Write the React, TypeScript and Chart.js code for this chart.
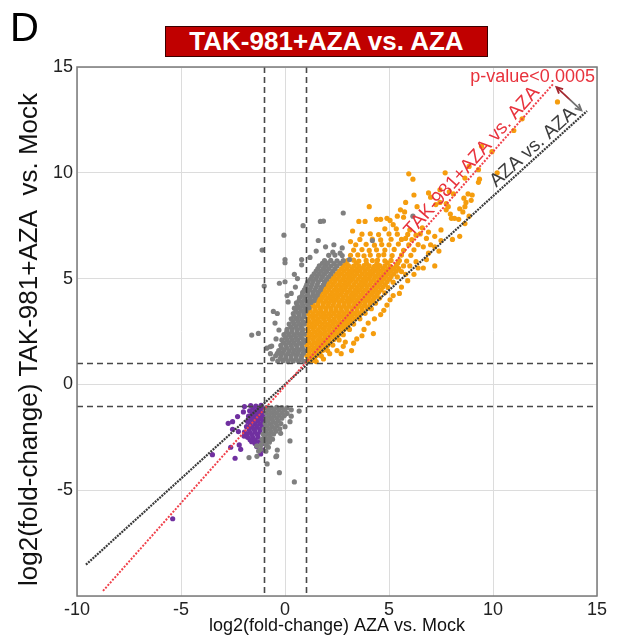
import React, { useEffect, useRef } from "react";
import { Chart, registerables } from "chart.js";

Chart.register(...registerables);

const FONT = '"Liberation Sans", Arial, Helvetica, sans-serif';

// axis ticks / ranges
const xRange = [-10, 15];
const yRange = [-10, 15];
const tickStep = 5;

// significance thresholds (dashed guides)
const thresholdsX = [-1, 1];
const thresholdsY = [-1, 1];

// fitted lines [x, y] end points
const lineAZA = [[-9.57, -8.52], [14.52, 12.92]];
const lineTAK = [[-8.75, -9.76], [12.93, 14.24]];

// labels
const titleText = "TAK-981+AZA vs. AZA";
const panelLetter = "D";
const xTitle = "log2(fold-change) AZA vs. Mock";
const yTitle = "log2(fold-change) TAK-981+AZA  vs. Mock";
const pLabel = "p-value<0.0005";
const takLabel = "TAK-981+AZA vs. AZA";
const azaLabel = "AZA vs. AZA";
const pLabelAt = [14.9, 14.27];
const arrowEnds = [[13.05, 14.05], [14.25, 12.95]];

// orange: up in TAK-981+AZA relative to AZA
const orangePoints = [
  [1.05,1.1],[1.3,1.12],[1.5,1.08],
  [1.17,1.22],[1.42,1.23],
  [1.05,1.35],[1.28,1.33],[1.52,1.37],[1.75,1.34],
  [1.17,1.47],[1.42,1.48],[1.67,1.46],
  [1.1,1.6],[1.33,1.62],[1.58,1.58],[1.82,1.61],[2.05,1.6],
  [1.17,1.72],[1.42,1.73],[1.67,1.71],[1.92,1.72],
  [1.05,1.85],[1.3,1.86],[1.55,1.83],[1.8,1.87],[2.05,1.84],[2.3,1.86],
  [1.17,1.97],[1.42,1.98],[1.67,1.96],[1.92,1.97],[2.17,1.98],
  [1.1,2.1],[1.35,2.12],[1.6,2.08],[1.85,2.11],[2.1,2.09],[2.35,2.12],[2.6,2.1],
  [1.17,2.22],[1.42,2.23],[1.67,2.21],[1.92,2.22],[2.17,2.24],[2.42,2.22],
  [1.05,2.35],[1.3,2.36],[1.55,2.33],[1.8,2.37],[2.05,2.34],[2.3,2.36],[2.55,2.34],[2.8,2.35],
  [1.17,2.47],[1.42,2.48],[1.67,2.46],[1.92,2.47],[2.17,2.49],[2.42,2.47],[2.67,2.46],
  [1.1,2.6],[1.35,2.62],[1.6,2.58],[1.85,2.61],[2.1,2.6],[2.35,2.63],[2.6,2.59],[2.85,2.61],[3.1,2.6],
  [1.17,2.72],[1.42,2.73],[1.67,2.71],[1.92,2.72],[2.17,2.74],[2.42,2.72],[2.67,2.71],[2.92,2.73],
  [1.05,2.85],[1.3,2.84],[1.55,2.87],[1.8,2.85],[2.05,2.83],[2.3,2.86],[2.55,2.85],[2.8,2.84],[3.05,2.87],[3.3,2.85],
  [1.17,2.97],[1.42,2.98],[1.67,2.96],[1.92,2.97],[2.17,2.99],[2.42,2.97],[2.67,2.96],[2.92,2.98],[3.17,2.97],
  [1.1,3.1],[1.35,3.12],[1.6,3.09],[1.85,3.11],[2.1,3.1],[2.35,3.08],[2.6,3.11],[2.85,3.1],[3.1,3.12],[3.35,3.09],[3.6,3.1],
  [1.22,3.22],[1.47,3.23],[1.72,3.21],[1.97,3.22],[2.22,3.24],[2.47,3.22],[2.72,3.21],[2.97,3.23],[3.22,3.22],[3.47,3.21],
  [1.1,3.35],[1.35,3.34],[1.6,3.36],[1.85,3.35],[2.1,3.33],[2.35,3.36],[2.6,3.35],[2.85,3.34],[3.1,3.36],[3.35,3.35],[3.6,3.33],[3.85,3.36],
  [1.22,3.47],[1.47,3.48],[1.72,3.46],[1.97,3.47],[2.22,3.49],[2.47,3.47],[2.72,3.46],[2.97,3.48],[3.22,3.47],[3.47,3.46],[3.72,3.48],
  [1.2,3.6],[1.45,3.62],[1.7,3.59],[1.95,3.61],[2.2,3.6],[2.45,3.58],[2.7,3.61],[2.95,3.6],[3.2,3.62],[3.45,3.59],[3.7,3.61],[3.95,3.6],[4.15,3.58],
  [1.32,3.72],[1.57,3.73],[1.82,3.71],[2.07,3.72],[2.32,3.74],[2.57,3.72],[2.82,3.71],[3.07,3.73],[3.32,3.72],[3.57,3.71],[3.82,3.73],[4.07,3.72],
  [1.35,3.85],[1.6,3.86],[1.85,3.84],[2.1,3.85],[2.35,3.87],[2.6,3.85],[2.85,3.83],[3.1,3.86],[3.35,3.85],[3.6,3.84],[3.85,3.86],[4.1,3.85],[4.35,3.84],
  [1.47,3.97],[1.72,3.98],[1.97,3.96],[2.22,3.97],[2.47,3.99],[2.72,3.97],[2.97,3.96],[3.22,3.98],[3.47,3.97],[3.72,3.96],[3.97,3.98],[4.22,3.97],
  [1.55,4.1],[1.8,4.11],[2.05,4.09],[2.3,4.1],[2.55,4.12],[2.8,4.1],[3.05,4.08],[3.3,4.11],[3.55,4.1],[3.8,4.09],[4.05,4.11],[4.3,4.1],[4.55,4.08],
  [1.67,4.22],[1.92,4.23],[2.17,4.21],[2.42,4.22],[2.67,4.24],[2.92,4.22],[3.17,4.21],[3.42,4.23],[3.67,4.22],[3.92,4.21],[4.17,4.23],[4.42,4.22],
  [1.75,4.35],[2.0,4.36],[2.25,4.34],[2.5,4.35],[2.75,4.37],[3.0,4.35],[3.25,4.33],[3.5,4.36],[3.75,4.35],[4.0,4.34],[4.25,4.36],[4.5,4.35],[4.8,4.33],
  [1.87,4.47],[2.12,4.48],[2.37,4.46],[2.62,4.47],[2.87,4.49],[3.12,4.47],[3.37,4.46],[3.62,4.48],[3.87,4.47],[4.12,4.46],[4.37,4.48],[4.62,4.47],
  [1.95,4.6],[2.2,4.61],[2.45,4.59],[2.7,4.6],[2.95,4.62],[3.2,4.6],[3.45,4.58],[3.7,4.61],[3.95,4.6],[4.2,4.59],[4.45,4.61],[4.7,4.6],[4.95,4.58],
  [2.07,4.72],[2.32,4.73],[2.57,4.71],[2.82,4.72],[3.07,4.74],[3.32,4.72],[3.57,4.71],[3.82,4.73],[4.07,4.72],[4.32,4.71],[4.57,4.73],[4.82,4.72],
  [2.15,4.85],[2.4,4.86],[2.65,4.84],[2.9,4.85],[3.15,4.87],[3.4,4.85],[3.65,4.83],[3.9,4.86],[4.15,4.85],[4.4,4.84],[4.65,4.86],[4.9,4.85],[5.2,4.83],
  [2.27,4.97],[2.52,4.98],[2.77,4.96],[3.02,4.97],[3.27,4.99],[3.52,4.97],[3.77,4.96],[4.02,4.98],[4.27,4.97],[4.52,4.96],[4.77,4.98],[5.02,4.97],
  [2.35,5.1],[2.6,5.11],[2.85,5.09],[3.1,5.1],[3.35,5.12],[3.6,5.1],[3.85,5.08],[4.1,5.11],[4.35,5.1],[4.6,5.09],[4.85,5.11],[5.1,5.1],[5.4,5.08],
  [2.47,5.22],[2.72,5.23],[2.97,5.21],[3.22,5.22],[3.47,5.24],[3.72,5.22],[3.97,5.21],[4.22,5.23],[4.47,5.22],[4.72,5.21],[4.97,5.23],[5.22,5.22],
  [2.6,5.35],[2.85,5.36],[3.1,5.34],[3.35,5.35],[3.6,5.37],[3.85,5.35],[4.1,5.33],[4.35,5.36],[4.6,5.35],[4.85,5.34],[5.1,5.36],[5.35,5.35],[5.6,5.33],
  [2.72,5.47],[2.97,5.48],[3.22,5.46],[3.47,5.47],[3.72,5.49],[3.97,5.47],[4.22,5.46],[4.47,5.48],[4.72,5.47],[4.97,5.46],[5.22,5.48],[5.47,5.47],
  [2.8,5.6],[3.05,5.61],[3.3,5.59],[3.55,5.6],[3.8,5.62],[4.05,5.6],[4.3,5.58],[4.55,5.61],[4.8,5.6],[5.05,5.59],[5.35,5.61],[5.7,5.6],
  [2.92,5.72],[3.42,5.73],[3.92,5.71],[4.42,5.72],[4.92,5.74],[5.42,5.72],
  [3.0,5.85],[3.3,5.87],[3.55,5.83],[3.9,5.86],[4.2,5.85],[4.45,5.88],[4.8,5.84],[5.1,5.86],[5.5,5.85],[5.85,5.83],
  [3.15,6.1],[3.5,6.12],[3.8,6.08],[4.1,6.11],[4.5,6.1],[4.75,6.13],[5.15,6.09],[5.6,6.11],[6.05,6.1],
  [3.3,6.35],[3.7,6.37],[4.05,6.33],[4.4,6.36],[4.8,6.35],[5.25,6.38],[5.7,6.34],[6.2,6.36],
  [3.4,6.6],[3.9,6.62],[4.3,6.58],[4.65,6.61],[5.0,6.6],[5.45,6.63],[5.95,6.59],[6.4,6.61],
  [3.6,6.85],[4.2,6.87],[4.6,6.83],[5.1,6.86],[5.6,6.85],[6.1,6.84],
  [3.7,7.1],[4.1,7.12],[4.5,7.08],[5.0,7.11],[5.4,7.1],[5.9,7.09],[6.5,7.11],
  [13.1,13.35],[11.4,12.55],[11.0,12.0],[9.45,11.25],[9.95,11.0],[10.2,10.0],[9.3,10.15],[9.35,9.7],[9.3,9.55],[8.65,9.75],[8.85,10.3],[7.7,10.0],[5.95,9.95],[6.15,9.7],
  [8.8,9.0],[9.0,8.95],[8.6,8.8],[8.7,8.6],[8.95,8.7],[8.65,8.4],[8.4,8.3],[8.55,8.15],[6.2,8.95],[5.8,8.6],[6.9,9.05],[7.0,8.85],[7.45,9.2],[7.25,8.5],[7.45,8.6],[7.75,8.25],[7.95,8.05],[7.9,9.1],[8.1,9.0],[7.75,8.55],[7.85,8.4],
  [4.05,8.4],[6.35,8.4],[5.55,8.25],[5.75,8.15],[3.55,7.7],[3.85,7.7],[4.4,7.8],[4.6,7.8],[4.9,7.85],[5.05,7.75],[5.2,7.55],[5.35,7.35],[8.15,7.85],[8.35,7.8],[8.0,7.85],[8.85,7.95],[8.65,7.6],[5.4,7.95],[5.7,7.9],
  [3.25,7.25],[3.15,6.75],[8.05,6.85],[8.4,7.0],[7.2,6.5],[6.65,6.5],[6.0,7.3],[6.3,7.05],[6.6,7.4],[6.9,7.2],[7.2,7.0],[7.5,7.3],[6.8,6.9],[7.5,6.8],[5.8,6.9],[4.8,7.35],
  [6.65,5.5],[7.2,5.6],[6.8,5.9],[5.05,4.0],[4.9,3.75],[4.75,3.5],[4.25,2.4],[3.45,2.15],[3.3,1.95],[2.8,1.8],[2.5,1.6],[3.2,1.6],[2.7,1.45],[2.15,1.45],[1.85,1.2],
  [5.6,4.6],[5.9,4.9],[6.2,5.2],[5.5,4.3],[6.0,5.6],[6.4,5.5],[5.8,5.2],[4.6,3.3],[4.0,2.9],[3.8,2.6],[5.2,4.2],[6.3,5.8],[4.3,3.1],[3.7,2.3],[2.9,2.0],[6.9,6.2],[7.4,6.3],[7.0,6.6],
];

// gray: not significant
const grayPoints = [
  [-0.35,1.1],[-0.1,1.12],[0.15,1.08],[0.4,1.11],[0.65,1.1],[0.9,1.09],
  [-0.22,1.22],[0.03,1.23],[0.28,1.21],[0.53,1.22],[0.78,1.24],
  [-0.45,1.35],[-0.2,1.36],[0.05,1.34],[0.3,1.35],[0.55,1.37],[0.8,1.35],
  [-0.37,1.47],[-0.12,1.48],[0.13,1.46],[0.38,1.47],[0.63,1.49],[0.88,1.47],
  [-0.3,1.6],[-0.05,1.61],[0.2,1.59],[0.45,1.6],[0.7,1.62],[0.92,1.6],
  [-0.17,1.72],[0.08,1.73],[0.33,1.71],[0.58,1.72],[0.83,1.74],
  [-0.2,1.85],[0.05,1.86],[0.3,1.84],[0.55,1.85],[0.8,1.87],
  [-0.07,1.97],[0.18,1.98],[0.43,1.96],[0.68,1.97],[0.9,1.99],
  [-0.15,2.1],[0.1,2.11],[0.35,2.09],[0.6,2.1],[0.88,2.12],
  [0.03,2.22],[0.28,2.23],[0.53,2.21],[0.78,2.22],
  [-0.05,2.35],[0.2,2.36],[0.45,2.34],[0.7,2.35],[0.92,2.37],
  [0.08,2.47],[0.33,2.48],[0.58,2.46],[0.83,2.47],
  [0.1,2.6],[0.35,2.61],[0.6,2.59],[0.85,2.6],
  [0.28,2.72],[0.53,2.73],[0.78,2.71],
  [0.2,2.85],[0.45,2.86],[0.7,2.84],[0.92,2.85],
  [0.38,2.97],[0.63,2.98],[0.88,2.96],
  [0.3,3.1],[0.55,3.11],[0.8,3.09],
  [0.43,3.22],[0.68,3.23],[0.92,3.21],
  [0.4,3.35],[0.65,3.36],[0.9,3.34],
  [0.53,3.47],[0.78,3.48],[1.0,3.46],
  [0.45,3.6],[0.7,3.61],[0.95,3.59],[1.15,3.62],
  [0.6,3.72],[0.85,3.73],[1.1,3.71],
  [0.55,3.85],[0.8,3.86],[1.05,3.84],[1.25,3.87],
  [0.68,3.97],[0.93,3.98],[1.18,3.96],[1.4,3.97],
  [0.7,4.1],[0.95,4.11],[1.2,4.09],[1.45,4.1],
  [0.83,4.22],[1.08,4.23],[1.33,4.21],[1.55,4.22],
  [0.85,4.35],[1.1,4.36],[1.35,4.34],[1.6,4.35],
  [0.93,4.47],[1.18,4.48],[1.43,4.46],[1.7,4.47],
  [1.0,4.6],[1.25,4.61],[1.5,4.59],[1.75,4.6],
  [1.05,4.72],[1.3,4.73],[1.55,4.71],[1.85,4.72],
  [1.1,4.85],[1.35,4.86],[1.6,4.84],[1.9,4.85],
  [1.23,4.97],[1.48,4.98],[1.73,4.96],[2.0,4.97],
  [1.3,5.1],[1.55,5.11],[1.8,5.09],[2.1,5.1],
  [1.4,5.22],[1.65,5.23],[1.9,5.21],[2.2,5.22],
  [1.5,5.35],[1.75,5.36],[2.0,5.34],[2.3,5.35],
  [1.58,5.47],[1.85,5.48],[2.1,5.46],[2.4,5.47],
  [1.65,5.6],[1.95,5.61],[2.2,5.59],[2.5,5.6],
  [1.8,5.72],[2.05,5.73],[2.35,5.71],[2.65,5.72],
  [1.9,5.85],[2.2,5.86],[2.5,5.84],[2.8,5.85],
  [2.1,6.1],[2.4,6.11],[2.75,6.09],
  [2.8,8.1],[1.7,7.7],[1.85,7.72],[0.87,7.5],[-0.05,7.05],[-1.1,6.35],[0,5.9],[0,5.75],[1.6,6.8],[0.8,5.9],[0.8,5.65],
  [-1.0,4.65],[0,4.85],[-0.27,4.78],[-0.56,3.45],[-0.37,3.35],[-0.48,2.9],[-0.29,2.57],[-0.72,1.78],[-0.43,2.15],
  [6.15,7.95],[4.2,6.8],[2.3,6.25],[2.65,6.2],[3.1,5.9],[1.5,6.3],[1.95,6.5],[2.35,6.6],[2.75,6.45],[1.2,6.0],
  [0.15,3.9],[0.3,4.3],[0.5,4.6],[0.1,4.2],[-1.6,2.33],[-1.28,2.41],[-0.64,1.81],[-0.88,1.71],[-0.6,1.2],[-0.7,1.45],[0.45,5.2],[0.6,5.0],
  [-0.9,-1.1],[-0.65,-1.12],[-0.4,-1.09],[-0.15,-1.1],[0.1,-1.11],
  [-0.78,-1.22],[-0.53,-1.23],[-0.28,-1.21],[-0.03,-1.22],
  [-0.9,-1.35],[-0.65,-1.36],[-0.4,-1.34],[-0.15,-1.35],[0.1,-1.37],
  [-0.78,-1.47],[-0.53,-1.48],[-0.28,-1.46],[-0.03,-1.47],
  [-0.9,-1.6],[-0.65,-1.61],[-0.4,-1.59],[-0.15,-1.6],
  [-0.83,-1.72],[-0.58,-1.73],[-0.33,-1.71],
  [-0.95,-1.85],[-0.7,-1.86],[-0.45,-1.84],[-0.2,-1.85],
  [-0.88,-1.97],[-0.63,-1.98],[-0.38,-1.96],
  [-1.0,-2.1],[-0.75,-2.11],[-0.5,-2.09],[-0.25,-2.1],
  [-0.93,-2.22],[-0.68,-2.23],[-0.43,-2.21],
  [-1.05,-2.35],[-0.8,-2.36],[-0.55,-2.34],
  [-0.98,-2.47],[-0.73,-2.48],
  [-1.1,-2.6],[-0.85,-2.61],[-0.6,-2.59],
  [-1.0,-2.72],[-0.75,-2.73],
  [-1.15,-2.85],[-0.9,-2.86],
  [0.68,-1.26],[0.3,-1.5],[0.24,-1.76],[0.0,-2.0],[-0.21,-2.31],[0.24,-2.67],[-0.72,-2.63],[-0.37,-3.1],[-0.8,-2.97],
  [-0.92,-3.16],[-0.44,-3.42],[-0.86,-3.76],[-1.27,-3.15],[-1.17,-3.07],[-1.36,-2.91],[-1.73,-3.46],[-0.27,-4.17],[0.45,-4.61],
  [-0.4,-3.38],[0.3,-1.2],[-1.35,-3.4],
];

// purple: down in TAK-981+AZA relative to AZA
const purplePoints = [
  [-1.65,-1.0],[-1.4,-1.02],[-1.15,-0.99],
  [-1.55,-1.12],[-1.3,-1.13],[-1.08,-1.11],
  [-1.7,-1.25],[-1.45,-1.26],[-1.2,-1.24],
  [-1.58,-1.37],[-1.33,-1.38],[-1.1,-1.36],
  [-1.75,-1.5],[-1.5,-1.51],[-1.25,-1.49],[-1.05,-1.5],
  [-1.62,-1.62],[-1.38,-1.63],[-1.15,-1.61],
  [-1.8,-1.75],[-1.55,-1.76],[-1.3,-1.74],[-1.05,-1.75],
  [-1.68,-1.87],[-1.43,-1.88],[-1.18,-1.86],
  [-1.85,-2.0],[-1.6,-2.01],[-1.35,-1.99],[-1.1,-2.0],
  [-1.72,-2.12],[-1.47,-2.13],[-1.22,-2.11],
  [-1.95,-2.25],[-1.7,-2.26],[-1.45,-2.24],[-1.2,-2.25],
  [-1.82,-2.37],[-1.58,-2.38],[-1.33,-2.36],
  [-1.8,-2.5],[-1.55,-2.51],[-1.3,-2.49],
  [-1.68,-2.62],[-1.43,-2.63],
  [-3.49,-3.32],[-2.73,-1.84],[-2.52,-1.76],[-2.28,-1.52],[-2.52,-2.12],[-2.24,-2.23],[-1.97,-2.44],[-2.4,-3.49],
  [-2.2,-2.86],[-2.13,-3.07],[-2.61,-2.97],[-1.6,-2.71],[-1.44,-2.79],[-1.23,-2.71],[-1.07,-2.79],[-1.36,-2.94],
  [-1.17,-3.29],[-1.07,-3.1],[-5.4,-6.35],[-2.0,-1.3],[-1.95,-1.05],
];

const toXY = (arr: number[][]) => arr.map(([x, y]) => ({ x, y }));

const overlay = {
  id: "overlay",
  afterDatasetsDraw(chart: any) {
    const { ctx, chartArea: a, scales } = chart;
    const xs = scales.x;
    const ys = scales.y;
    const px = (v: number) => xs.getPixelForValue(v);
    const py = (v: number) => ys.getPixelForValue(v);

    ctx.save();
    ctx.beginPath();
    ctx.rect(a.left, a.top, a.right - a.left, a.bottom - a.top);
    ctx.clip();
    ctx.strokeStyle = "#484848";
    ctx.lineWidth = 1.6;
    ctx.setLineDash([6, 4]);
    thresholdsX.forEach((v) => {
      ctx.beginPath();
      ctx.moveTo(Math.round(px(v)) + 0.5, a.top);
      ctx.lineTo(Math.round(px(v)) + 0.5, a.bottom);
      ctx.stroke();
    });
    thresholdsY.forEach((v) => {
      ctx.beginPath();
      ctx.moveTo(a.left, Math.round(py(v)) + 0.5);
      ctx.lineTo(a.right, Math.round(py(v)) + 0.5);
      ctx.stroke();
    });
    ctx.restore();

    // border
    ctx.save();
    ctx.strokeStyle = "#7a7a7a";
    ctx.lineWidth = 1.5;
    ctx.strokeRect(a.left, a.top, a.right - a.left, a.bottom - a.top);
    ctx.restore();

    // rotated labels along lines
    const drawAlong = (line: number[][], t: number, text: string, color: string) => {
      const x1 = px(line[0][0]), y1 = py(line[0][1]);
      const x2 = px(line[1][0]), y2 = py(line[1][1]);
      const ang = Math.atan2(y2 - y1, x2 - x1);
      const ax = x1 + (x2 - x1) * t;
      const ay = y1 + (y2 - y1) * t;
      ctx.save();
      ctx.translate(ax, ay);
      ctx.rotate(ang);
      ctx.font = `19px ${FONT}`;
      ctx.fillStyle = color;
      ctx.textAlign = "right";
      ctx.textBaseline = "alphabetic";
      ctx.fillText(text, 0, -4);
      ctx.restore();
    };
    drawAlong(lineTAK, 0.976, takLabel, "#e8323c");
    drawAlong(lineAZA, 0.985, azaLabel, "#3c3c3c");

    // p-value label
    ctx.save();
    ctx.font = `18px ${FONT}`;
    ctx.fillStyle = "#e8323c";
    ctx.textAlign = "right";
    ctx.textBaseline = "alphabetic";
    ctx.fillText(pLabel, px(pLabelAt[0]), py(pLabelAt[1]));
    ctx.restore();

    // double-headed arrow
    const sx = px(arrowEnds[0][0]), sy = py(arrowEnds[0][1]);
    const ex = px(arrowEnds[1][0]), ey = py(arrowEnds[1][1]);
    const grad = ctx.createLinearGradient(sx, sy, ex, ey);
    grad.addColorStop(0, "#a3262e");
    grad.addColorStop(0.45, "#a3262e");
    grad.addColorStop(0.6, "#707070");
    grad.addColorStop(1, "#707070");
    ctx.save();
    ctx.strokeStyle = grad;
    ctx.lineWidth = 1.8;
    ctx.beginPath();
    ctx.moveTo(sx, sy);
    ctx.lineTo(ex, ey);
    ctx.stroke();
    const head = (hx: number, hy: number, dir: number, col: string) => {
      ctx.strokeStyle = col;
      ctx.beginPath();
      ctx.moveTo(hx + 7 * Math.cos(dir + 0.45), hy + 7 * Math.sin(dir + 0.45));
      ctx.lineTo(hx, hy);
      ctx.lineTo(hx + 7 * Math.cos(dir - 0.45), hy + 7 * Math.sin(dir - 0.45));
      ctx.stroke();
    };
    const ang = Math.atan2(ey - sy, ex - sx);
    head(sx, sy, ang, "#a3262e");
    head(ex, ey, ang + Math.PI, "#707070");
    ctx.restore();
  },
  afterDraw(chart: any) {
    const { ctx, chartArea: a } = chart;
    // y-axis title
    ctx.save();
    ctx.translate(30, (a.top + a.bottom) / 2 + 8);
    ctx.rotate(-Math.PI / 2);
    ctx.font = `26px ${FONT}`;
    ctx.fillStyle = "#111";
    ctx.textAlign = "center";
    ctx.textBaseline = "middle";
    ctx.fillText(yTitle, 0, 0);
    ctx.restore();
  },
};

export default function App() {
  const ref = useRef<HTMLCanvasElement | null>(null);

  useEffect(() => {
    if (!ref.current) return;
    const chart = new Chart(ref.current, {
      type: "scatter",
      data: {
        datasets: [
          {
            label: "TAK fit",
            data: toXY(lineTAK),
            showLine: true,
            borderColor: "#f0404a",
            borderWidth: 2,
            borderDash: [2, 1.5],
            pointRadius: 0,
            fill: false,
          } as any,
          {
            label: "AZA fit",
            data: toXY(lineAZA),
            showLine: true,
            borderColor: "#3a3a3a",
            borderWidth: 2.2,
            borderDash: [2, 1],
            pointRadius: 0,
            fill: false,
          },
          {
            label: "NS",
            data: toXY(grayPoints),
            backgroundColor: "#7f7f7f",
            borderWidth: 0,
            pointRadius: 2.6,
            pointHoverRadius: 2.6,
          },
          {
            label: "Down",
            data: toXY(purplePoints),
            backgroundColor: "#7030a0",
            borderWidth: 0,
            pointRadius: 2.6,
            pointHoverRadius: 2.6,
          },
          {
            label: "Up",
            data: toXY(orangePoints),
            backgroundColor: "#f59d0e",
            borderWidth: 0,
            pointRadius: 2.6,
            pointHoverRadius: 2.6,
          },
        ],
      },
      options: {
        responsive: false,
        animation: false,
        devicePixelRatio: 1,
        layout: { padding: { top: 67, right: 24, left: 0, bottom: 0 } },
        plugins: { legend: { display: false }, tooltip: { enabled: false } },
        scales: {
          x: {
            type: "linear",
            min: xRange[0],
            max: xRange[1],
            ticks: { stepSize: tickStep, font: { size: 18, family: FONT }, color: "#222", padding: 3 },
            grid: { color: "#dcdcdc", drawTicks: false, lineWidth: 1 },
            border: { display: false },
            title: {
              display: true,
              text: xTitle,
              font: { size: 18, family: FONT },
              color: "#111",
              padding: { top: 0, bottom: 4 },
            },
            afterFit: (s: any) => {
              s.height = 45;
            },
          },
          y: {
            type: "linear",
            min: yRange[0],
            max: yRange[1],
            ticks: {
              stepSize: tickStep,
              font: { size: 18, family: FONT },
              color: "#222",
              padding: 4,
              callback: (v: any) => (v === yRange[0] ? "" : String(v)),
            },
            grid: { color: "#dcdcdc", drawTicks: false, lineWidth: 1 },
            border: { display: false },
            title: { display: false, text: yTitle },
            afterFit: (s: any) => {
              s.width = 77;
            },
          },
        },
      },
      plugins: [overlay],
    });
    return () => chart.destroy();
  }, []);

  return (
    <div style={{ position: "fixed", left: 0, top: 0, width: 621, height: 641, background: "#fff", overflow: "hidden" }}>
      <canvas ref={ref} width={621} height={641} style={{ position: "absolute", left: 0, top: 0, width: 621, height: 641 }} />
      <div
        style={{
          position: "absolute",
          left: 10,
          top: 5,
          fontFamily: FONT,
          fontSize: 40,
          lineHeight: "44px",
          color: "#000",
        }}
      >
        {panelLetter}
      </div>
      <div
        style={{
          position: "absolute",
          left: 165,
          top: 26,
          width: 323,
          height: 31,
          boxSizing: "border-box",
          background: "#c00000",
          border: "1px solid #3a0000",
          color: "#fff",
          fontFamily: FONT,
          fontWeight: "bold",
          fontSize: 26,
          display: "flex",
          alignItems: "center",
          justifyContent: "center",
          whiteSpace: "nowrap",
        }}
      >
        {titleText}
      </div>
    </div>
  );
}
